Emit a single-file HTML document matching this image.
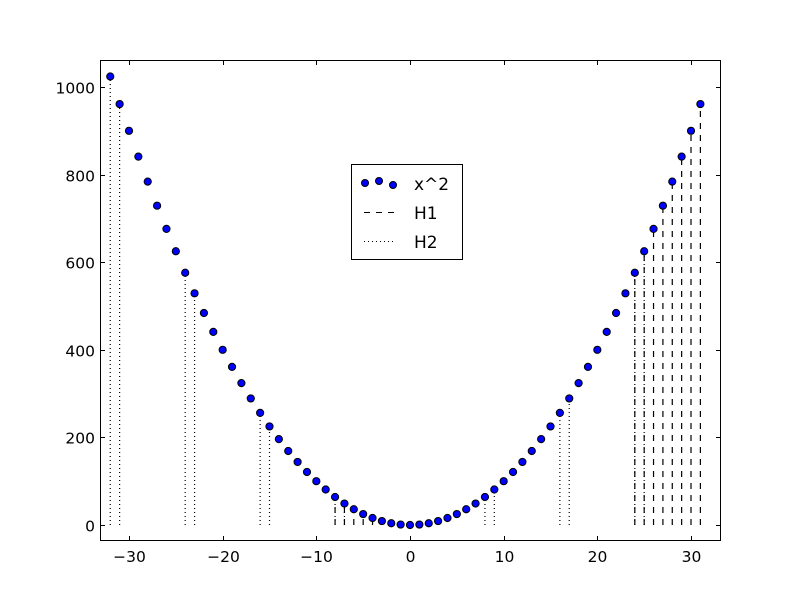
<!DOCTYPE html>
<html><head><meta charset="utf-8"><style>body{margin:0;background:#fff}svg{display:block}text{font-family:"DejaVu Sans","Liberation Sans",sans-serif}</style></head>
<body>
<svg id="s" width="800" height="600" xmlns="http://www.w3.org/2000/svg">
<rect width="800" height="600" fill="#fff"/>
<g id="lines"></g>
<g id="pts"></g>
<rect x="100.5" y="60.5" width="620" height="480" fill="none" stroke="#000" stroke-width="1"/>
<g id="ticks" stroke="#000" stroke-width="1"></g>
<g id="labels" font-size="15.5" fill="#000"></g>
<rect x="351.5" y="164.5" width="111" height="95" fill="#fff" stroke="#000"/>
<circle cx="365" cy="183" r="3.5" fill="#00f" stroke="#000"/>
<circle cx="379" cy="181" r="3.5" fill="#00f" stroke="#000"/>
<circle cx="393" cy="185" r="3.5" fill="#00f" stroke="#000"/>
<line x1="364" y1="212.5" x2="396" y2="212.5" stroke="#000" stroke-dasharray="6,6"/>
<line x1="364" y1="241.5" x2="396" y2="241.5" stroke="#000" stroke-dasharray="1,3"/>
<text x="414" y="190" font-size="17">x^2</text>
<text x="414" y="219" font-size="17">H1</text>
<text x="414" y="248" font-size="17">H2</text>
</svg>
<script>
var NS="http://www.w3.org/2000/svg";
function X(v){return 410+v*9.367;}
function Y(v){return 525-v*0.438;}
function el(p,t,a){var e=document.createElementNS(NS,t);for(var k in a)e.setAttribute(k,a[k]);document.getElementById(p).appendChild(e);return e;}
for(var x=-32;x<=31;x++){
  var m=((x%32)+32)%32;
  if(m>=24) el("lines","line",{x1:X(x),x2:X(x),y1:Y(0),y2:Y(x*x),stroke:"#000","stroke-width":1.2,"stroke-dasharray":"6,6"});
  var m8=((x%8)+8)%8;
  if(m8<=1) el("lines","line",{x1:X(x),x2:X(x),y1:Y(0),y2:Y(x*x),stroke:"#000","stroke-width":1.2,"stroke-dasharray":"1,3"});
}
for(var x=-32;x<=31;x++) el("pts","circle",{cx:X(x),cy:Y(x*x),r:3.6,fill:"#00f",stroke:"#000","stroke-width":1});
for(var v=-30;v<=30;v+=10){var px=Math.round(X(v))+0.5;
  el("ticks","line",{x1:px,x2:px,y1:540,y2:536});el("ticks","line",{x1:px,x2:px,y1:61,y2:65});
  var t=el("labels","text",{x:px,y:562,"text-anchor":"middle"});t.textContent=(v<0?"\u2212":"")+Math.abs(v);}
for(var v=0;v<=1000;v+=200){var py=Math.round(Y(v))+0.5;
  el("ticks","line",{x1:101,x2:105,y1:py,y2:py});el("ticks","line",{x1:720,x2:716,y1:py,y2:py});
  var t=el("labels","text",{x:95,y:py+6,"text-anchor":"end"});t.textContent=v;}
</script>
</body></html>
